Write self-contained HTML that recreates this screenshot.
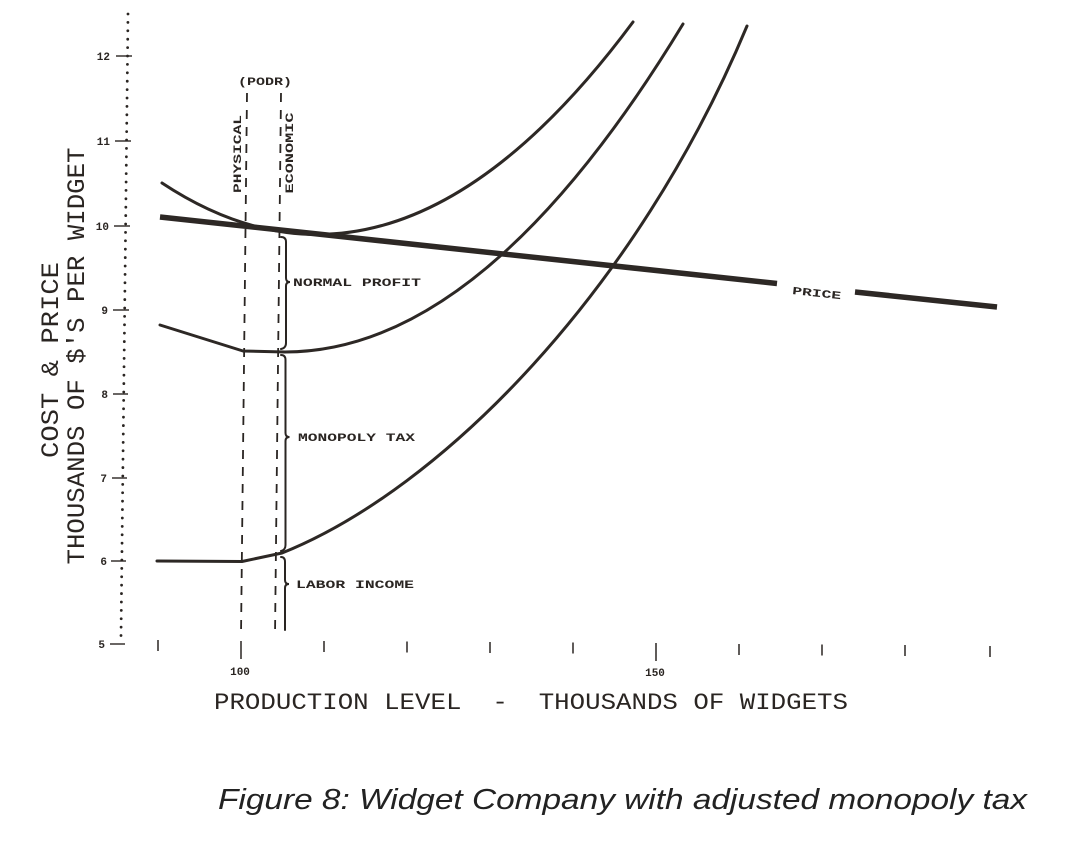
<!DOCTYPE html>
<html>
<head>
<meta charset="utf-8">
<style>
  html, body { margin: 0; padding: 0; background: #ffffff; }
  svg { display: block; }
  .mono { font-family: "Liberation Mono", "DejaVu Sans Mono", monospace; fill: #2a2522; }
  .lbl { font-family: "Liberation Mono", "DejaVu Sans Mono", monospace; font-weight: bold; fill: #2a2522; }
</style>
</head>
<body>
<svg width="1087" height="844" viewBox="0 0 1087 844" xmlns="http://www.w3.org/2000/svg">
  <rect x="0" y="0" width="1087" height="844" fill="#ffffff"/>

  <!-- Y axis dotted line -->
  <line x1="128" y1="14" x2="121" y2="636" stroke="#2a2522" stroke-width="2.8" stroke-linecap="round" stroke-dasharray="0 8.4"/>

  <!-- Y ticks -->
  <g stroke="#2a2522" stroke-width="1.4">
    <line x1="116" y1="56" x2="132" y2="56"/>
    <line x1="115" y1="141" x2="131" y2="141"/>
    <line x1="114" y1="226" x2="130" y2="226"/>
    <line x1="113" y1="310" x2="129" y2="310"/>
    <line x1="113" y1="394" x2="128" y2="394"/>
    <line x1="112" y1="478" x2="127" y2="478"/>
    <line x1="111" y1="561" x2="126" y2="561"/>
    <line x1="110" y1="644" x2="125" y2="644"/>
  </g>
  <g class="lbl" font-size="11" text-anchor="end">
    <text x="110" y="60">12</text>
    <text x="110" y="145">11</text>
    <text x="109" y="230">10</text>
    <text x="108" y="314">9</text>
    <text x="108" y="398">8</text>
    <text x="107" y="482">7</text>
    <text x="107" y="565">6</text>
    <text x="105" y="648">5</text>
  </g>

  <!-- Y axis titles -->
  <text class="mono" font-size="25" text-anchor="middle" transform="translate(58,360) rotate(-90)" textLength="196" lengthAdjust="spacingAndGlyphs">COST &amp; PRICE</text>
  <text class="mono" font-size="25" text-anchor="middle" transform="translate(84,356) rotate(-90)" textLength="417" lengthAdjust="spacingAndGlyphs">THOUSANDS OF $'S PER WIDGET</text>

  <!-- X ticks -->
  <g stroke="#2a2522" stroke-width="1.5">
    <line x1="158" y1="640" x2="158" y2="651"/>
    <line x1="241" y1="641" x2="241" y2="659"/>
    <line x1="324" y1="641" x2="324" y2="652"/>
    <line x1="407" y1="641.5" x2="407" y2="652.5"/>
    <line x1="490" y1="642" x2="490" y2="653"/>
    <line x1="573" y1="642.5" x2="573" y2="653.5"/>
    <line x1="656" y1="643" x2="656" y2="661"/>
    <line x1="739" y1="644" x2="739" y2="655"/>
    <line x1="822" y1="644.5" x2="822" y2="655.5"/>
    <line x1="905" y1="645" x2="905" y2="656"/>
    <line x1="990" y1="646" x2="990" y2="657"/>
  </g>
  <g class="lbl" font-size="11" text-anchor="middle">
    <text x="240" y="675">100</text>
    <text x="655" y="676">150</text>
  </g>

  <!-- X axis title -->
  <text class="mono" font-size="23" x="214" y="709" textLength="634" lengthAdjust="spacingAndGlyphs" xml:space="preserve">PRODUCTION LEVEL  -  THOUSANDS OF WIDGETS</text>

  <!-- Dashed PODR lines -->
  <g stroke="#2a2522" stroke-width="1.8" stroke-dasharray="9 8" fill="none">
    <line x1="247" y1="93" x2="241" y2="636"/>
    <line x1="281" y1="93" x2="275" y2="636"/>
  </g>
  <text class="lbl" font-size="11" x="265" y="85" text-anchor="middle" textLength="54" lengthAdjust="spacingAndGlyphs">(PODR)</text>
  <text class="lbl" font-size="11" text-anchor="middle" transform="translate(241,154) rotate(-90)" textLength="78" lengthAdjust="spacingAndGlyphs">PHYSICAL</text>
  <text class="lbl" font-size="11" text-anchor="middle" transform="translate(293,153) rotate(-90)" textLength="81" lengthAdjust="spacingAndGlyphs">ECONOMIC</text>

  <!-- Braces -->
  <g stroke="#2a2522" stroke-width="2" fill="none" stroke-linecap="round">
    <path d="M281,237 Q286,237 286,242 L286,278 Q286,282 290,282 Q286,282 286,286 L286,343 Q286,348 281,349"/>
    <path d="M281,355 Q285.5,355 285.5,360 L285.5,433 Q285.5,437 289.5,437 Q285.5,437 285.5,441 L285.5,545 Q285.5,550 281,551"/>
    <path d="M281,557 Q285,557 285,562 L285,580 Q285,584 289,584 Q285,584 285,588 L285,630"/>
  </g>
  <g class="lbl" font-size="11">
    <text x="293" y="286" textLength="128" lengthAdjust="spacingAndGlyphs">NORMAL PROFIT</text>
    <text x="298" y="441" textLength="117" lengthAdjust="spacingAndGlyphs">MONOPOLY TAX</text>
    <text x="296" y="588" textLength="118" lengthAdjust="spacingAndGlyphs">LABOR INCOME</text>
  </g>

  <!-- Cost curves -->
  <g stroke="#2d2825" stroke-width="3" fill="none" stroke-linecap="round" stroke-linejoin="round">
    <!-- top curve -->
    <path d="M162,183 Q397.5,339 633,22"/>
    <!-- middle curve -->
    <path d="M160,325 L243,351 L285,352 Q484,352 683,24"/>
    <!-- bottom curve -->
    <path d="M157,561 L242,561.5 L282,553 C442,489 637,290 747,26"/>
  </g>

  <!-- Price line -->
  <g stroke="#2d2825" stroke-width="5.5" fill="none" stroke-linecap="butt">
    <line x1="160" y1="217" x2="777" y2="283.5"/>
    <line x1="855" y1="292" x2="997" y2="307"/>
  </g>
  <text class="lbl" font-size="11" transform="translate(792,294) rotate(6.1)" textLength="49" lengthAdjust="spacingAndGlyphs">PRICE</text>

  <!-- Caption -->
  <text x="218" y="809" font-family="'Liberation Sans', Arial, sans-serif" font-style="italic" font-size="29" fill="#222" textLength="809" lengthAdjust="spacingAndGlyphs">Figure 8: Widget Company with adjusted monopoly tax</text>
</svg>
</body>
</html>
